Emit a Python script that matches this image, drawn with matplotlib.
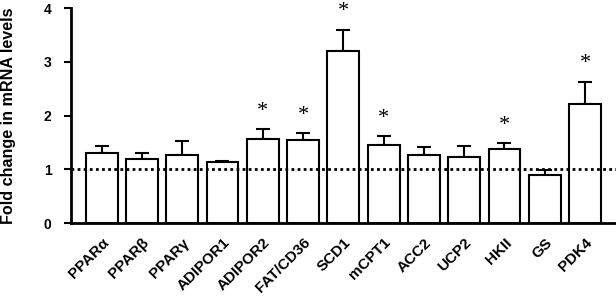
import numpy as np
import matplotlib.pyplot as plt
import matplotlib.transforms as mtransforms

# -------------------------------------------------
# Data
# -------------------------------------------------
genes = [
    "PPARα", "PPARβ", "PPARγ", "ADIPOR1", "ADIPOR2", "FAT/CD36", "SCD1",
    "mCPT1", "ACC2", "UCP2", "HKII", "GS", "PDK4",
]
fold_change = [1.31, 1.185, 1.265, 1.14, 1.56, 1.54, 3.21,
               1.445, 1.265, 1.23, 1.37, 0.887, 2.21]
err_upper = [0.12, 0.115, 0.265, 0.02, 0.19, 0.13, 0.39,
             0.175, 0.155, 0.21, 0.12, 0.10, 0.42]
significant = [False, False, False, False, True, True, True,
               True, False, False, True, False, True]
yticks = [0, 1, 2, 3, 4]

plt.rcParams['font.family'] = ['Liberation Sans', 'DejaVu Sans']

fig = plt.figure(figsize=(6.16, 2.99), dpi=100)
ax = fig.add_axes([0.1153, 0.254, 0.8847, 0.719])

x = np.arange(len(genes))
ax.bar(
    x, fold_change, width=0.79, color='white', edgecolor='black',
    linewidth=1.5, zorder=2,
)
ax.errorbar(
    x, fold_change, yerr=[np.zeros(len(x)), err_upper], fmt='none',
    ecolor='black', elinewidth=1.5, capsize=5, capthick=1.5, zorder=1,
)
ax.axhline(1, color='black', linestyle=(0, (1, 1.2)), linewidth=2, zorder=3)

for xi, v, e, s in zip(x, fold_change, err_upper, significant):
    if s:
        ax.text(
            xi, v + e + 0.33, '*', ha='center', va='center',
            fontsize=16, family='Liberation Serif',
        )

ax.set_xlim(-0.76, 12.77)
ax.set_ylim(0, 4)
ax.set_yticks(yticks)
ax.set_yticklabels([str(t) for t in yticks], fontsize=10, fontweight='bold')
ax.set_ylabel('Fold change in mRNA levels', fontsize=11.6,
              fontweight='bold', labelpad=20)

ax.set_xticks(x)
ax.set_xticklabels(
    genes, rotation=45, ha='right', va='top', rotation_mode='anchor',
    fontsize=11, fontweight='bold',
)
shift = mtransforms.ScaledTranslation(16 / 100, 0, fig.dpi_scale_trans)
for lbl in ax.get_xticklabels():
    lbl.set_transform(lbl.get_transform() + shift)
ax.tick_params(axis='x', length=0, pad=9)
ax.tick_params(axis='y', length=5, width=1.5, pad=9)

for side in ('top', 'right'):
    ax.spines[side].set_visible(False)
ax.spines['left'].set_linewidth(2)
ax.spines['bottom'].set_linewidth(2)

fig.savefig('out.png', dpi=100)
